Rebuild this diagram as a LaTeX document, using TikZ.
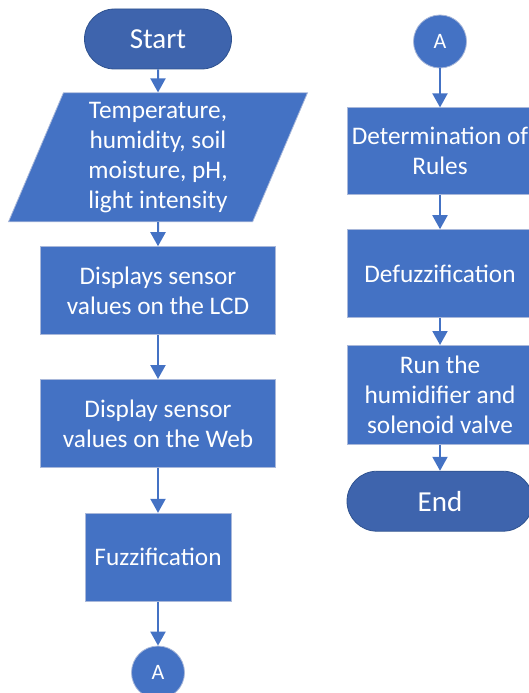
\documentclass[tikz,border=0pt]{standalone}
\usepackage{fontspec}
\setmainfont{Carlito}
\usetikzlibrary{arrows.meta,positioning,shapes.geometric}
\definecolor{boxblue}{HTML}{4472C4}
\definecolor{termblue}{HTML}{3E64AD}
\definecolor{termline}{HTML}{2F528F}
\definecolor{edgeblue}{HTML}{A9B8DA}
\tikzset{
  >={Triangle[length=14pt,width=15pt]},
  term/.style={draw=termline,line width=.8pt,fill=termblue,rounded corners=30pt,minimum height=60pt,inner sep=0pt,text=white,font=\fontsize{29}{34}\selectfont},
  proc/.style={draw=edgeblue,line width=.8pt,fill=boxblue,minimum height=88pt,inner sep=0pt,align=center,text=white,font=\fontsize{25.3}{30}\selectfont},
  io/.style={trapezium,trapezium left angle=63.6,trapezium right angle=116.4,trapezium stretches body,draw=edgeblue,line width=.8pt,fill=boxblue,minimum height=129pt,minimum width=299pt,inner sep=0pt,align=center,text=white,font=\fontsize{25.3}{30}\selectfont},
  conn/.style={circle,draw=edgeblue,line width=.8pt,fill=boxblue,minimum size=53pt,inner sep=0pt,text=white,font=\fontsize{22}{24}\selectfont},
  flow/.style={->,line width=2pt,draw=boxblue}
}
\begin{document}
\begin{tikzpicture}[x=1pt,y=1pt]
  \useasboundingbox (0,0) rectangle (529,-693);
  \node[term,minimum width=147pt] (start) at (158,-39) {Start};
  \node[io,below=23pt of start] (input) {Temperature,\\humidity, soil\\moisture, pH,\\light intensity};
  \node[proc,minimum width=235pt,below=24pt of input] (lcd) {Displays sensor\\values on the LCD};
  \node[proc,minimum width=235pt,below=44pt of lcd] (web) {Display sensor\\values on the Web};
  \node[proc,minimum width=146pt,below=45pt of web] (fuzz) {Fuzzification};
  \node[conn,below=44pt of fuzz] (outA) {A};
  \draw[flow] (start) -- (input);
  \draw[flow] (input) -- (lcd);
  \draw[flow] (lcd) -- (web);
  \draw[flow] (web) -- (fuzz);
  \draw[flow] (fuzz) -- (outA);
  \node[conn] (inA) at (440,-41.5) {A};
  \node[proc,minimum width=186pt,minimum height=87pt,below=39pt of inA] (rules) {Determination of\\Rules};
  \node[proc,minimum width=186pt,below=34pt of rules] (defuzz) {Defuzzification};
  \node[proc,minimum width=186pt,minimum height=99pt,below=27pt of defuzz] (run) {Run the\\humidifier and\\solenoid valve};
  \node[term,minimum width=186pt,below=26pt of run] (stop) {End};
  \draw[flow] (inA) -- (rules);
  \draw[flow] (rules) -- (defuzz);
  \draw[flow] (defuzz) -- (run);
  \draw[flow] (run) -- (stop);
\end{tikzpicture}
\end{document}
